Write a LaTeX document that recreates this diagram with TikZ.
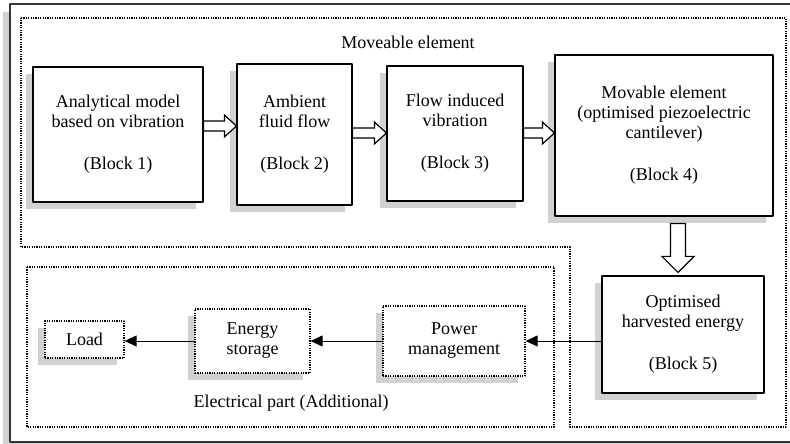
\documentclass[tikz,border=0pt]{standalone}
\usepackage{fontspec}
\setmainfont{Liberation Serif}
\usetikzlibrary{calc,shadows,arrows.meta}

\tikzset{
  block/.style={draw, line width=1.2pt, fill=white, align=center, inner sep=0pt,
    drop shadow={shadow xshift=-7pt, shadow yshift=-7pt, fill=black!18, opacity=1}},
  dotbox/.style={block, dash pattern=on 1.2pt off 1.2pt},
  region/.style={line width=1.2pt, dash pattern=on 1.2pt off 1.2pt},
  hollow/.style={draw, line width=1.2pt, fill=white, line join=miter},
  flow/.style={line width=0.9pt, -{Triangle[length=12pt, width=11pt]}}
}

% hollow block arrow, left to right, #3 = shift of the arrow from the centre line of #1
\newcommand{\hollowright}[3]{%
  \draw[hollow] let \p1=($(#1.east)+(0,#3)$), \p2=(#2.west) in
    (\x1,\y1+5pt) -- (\x2-12pt,\y1+5pt) -- (\x2-12pt,\y1+11pt) -- (\x2,\y1)
    -- (\x2-12pt,\y1-11pt) -- (\x2-12pt,\y1-5pt) -- (\x1,\y1-5pt) -- cycle;}
% hollow block arrow, top to bottom
\newcommand{\hollowdown}[2]{%
  \draw[hollow] let \p1=($(#2.north)+(-5,0)$), \p2=(#1.south) in
    (\x1-7.5pt,\y2-7pt) -- (\x1-7.5pt,\y1+19pt) -- (\x1-16pt,\y1+19pt) -- (\x1,\y1+3pt)
    -- (\x1+16pt,\y1+19pt) -- (\x1+7.5pt,\y1+19pt) -- (\x1+7.5pt,\y2-7pt) -- cycle;}

\begin{document}
\begin{tikzpicture}[x=1pt, y=1pt, font=\fontsize{18}{20}\selectfont, line join=round]
	\useasboundingbox (0,0) rectangle (790,444);
	% outer frame
	\fill[black!18] (3,-10) rectangle (793,432);
	\draw[line width=1.5pt, black!80, fill=white] (10,2) rectangle (800,440);
	% regions
	\draw[region] (21,426) -- (786,426) -- (786,17) -- (570,17) -- (570,197) -- (21,197) -- cycle;
	\draw[region] (27,177) rectangle (554,17);
	\node (moveable) at (408,402) {Moveable element};
	\node (electrical) at (291,41) {Electrical part (Additional)};
	% main blocks
	\node[block, minimum width=170pt, minimum height=135pt] (b1) at (118,309.5)
		{Analytical model\\based on vibration\\[22pt](Block 1)};
	\node[block, minimum width=115pt, minimum height=141pt] (b2) at (294.5,309.5)
		{Ambient\\fluid flow\\[22pt](Block 2)};
	\node[block, minimum width=136pt, minimum height=135pt] (b3) at (455,310.5)
		{Flow induced\\vibration\\[22pt](Block 3)};
	\node[block, minimum width=218pt, minimum height=161pt] (b4) at (664,308.5)
		{Movable element\\(optimised piezoelectric\\cantilever)\\[22pt](Block 4)};
	\node[block, minimum width=162pt, minimum height=117pt] (b5) at (683,109.5)
		{Optimised\\harvested energy\\[22pt](Block 5)};
	% electrical blocks
	\node[dotbox, minimum width=142pt, minimum height=70pt] (power) at (454,103) {Power\\management};
	\node[dotbox, minimum width=115pt, minimum height=64pt] (storage) at (252.5,103) {Energy\\storage};
	\node[dotbox, minimum width=79pt, minimum height=37pt] (load) at (84.5,104.5) {Load};
	% arrows
	\hollowright{b1}{b2}{8.5}
	\hollowright{b2}{b3}{1.5}
	\hollowright{b3}{b4}{0.5}
	\hollowdown{b4}{b5}
	\draw[flow] (b5.west |- power.east) -- (power.east);
	\draw[flow] (power.west) -- (storage.east);
	\draw[flow] (storage.west) -- (storage.west -| load.east);
\end{tikzpicture}
\end{document}
